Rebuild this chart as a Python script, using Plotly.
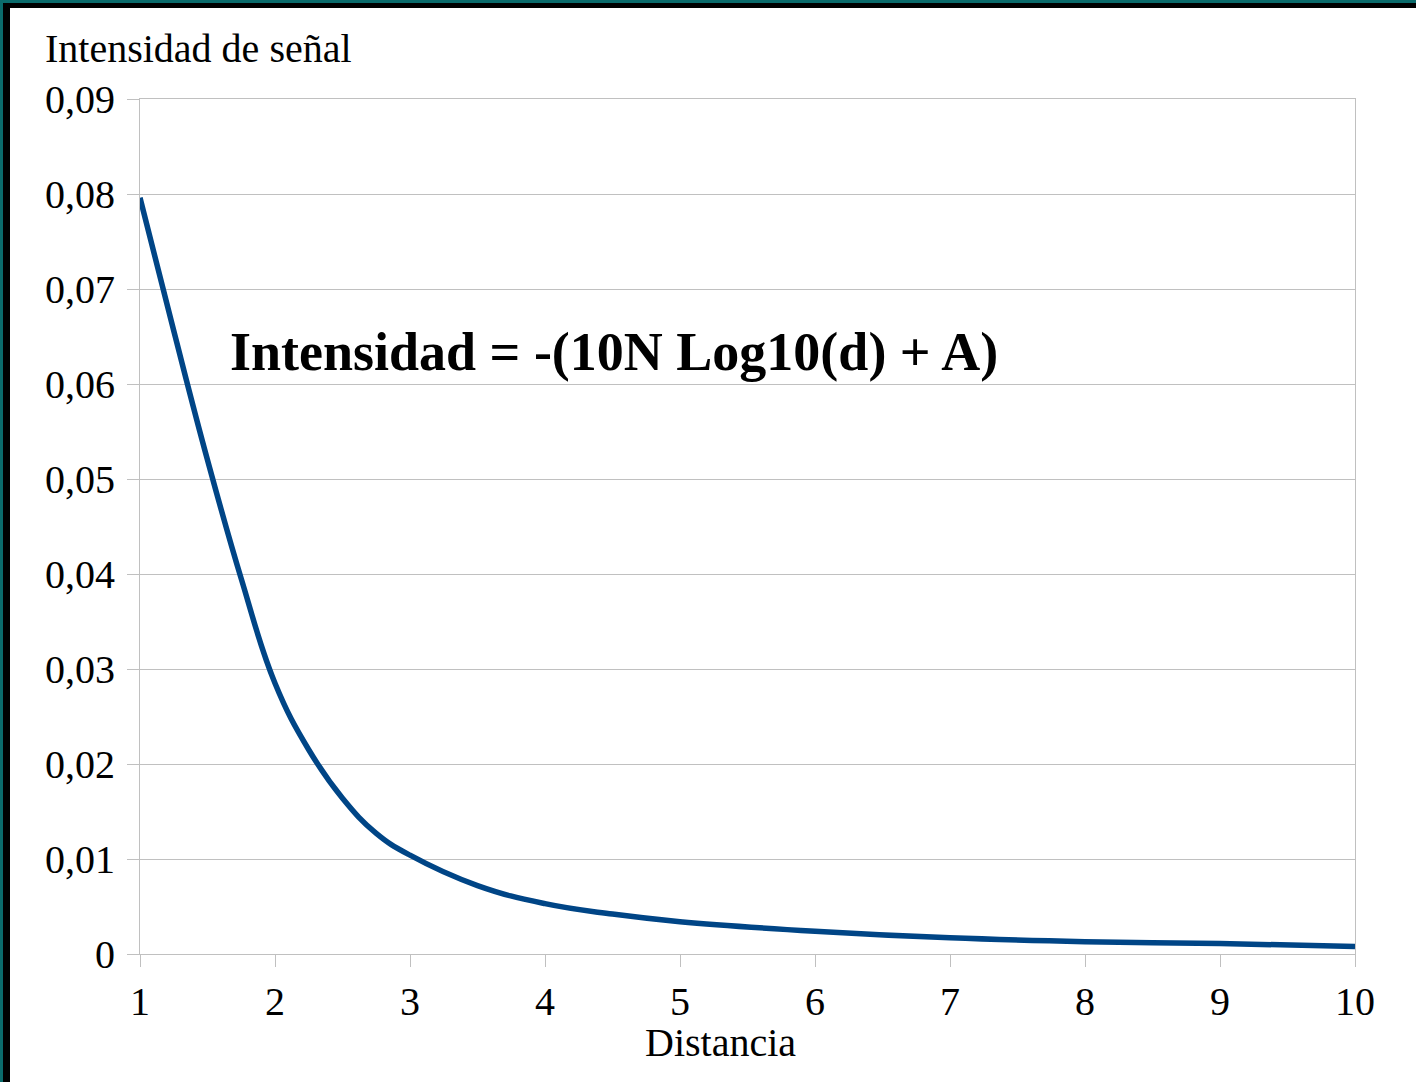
import plotly.graph_objects as go

# Data
distancia = [1, 1.25, 1.5, 1.75, 2, 2.25, 2.5, 2.75, 3, 3.5, 4, 4.5, 5, 6, 7, 8, 9, 10]
intensidad = [0.0796, 0.0656, 0.0520, 0.0395, 0.0285, 0.0215, 0.0164, 0.0127, 0.0104,
              0.0072, 0.0053, 0.0042, 0.0034, 0.0024, 0.0017, 0.0013, 0.0011, 0.0008]

y_tickvals = [0, 0.01, 0.02, 0.03, 0.04, 0.05, 0.06, 0.07, 0.08, 0.09]
y_ticktext = ["0", "0,01", "0,02", "0,03", "0,04", "0,05", "0,06", "0,07", "0,08", "0,09"]
x_tickvals = [1, 2, 3, 4, 5, 6, 7, 8, 9, 10]

W, H = 1416, 1082
L, R, T, B = 140, 61, 99, 128
pw, ph = W - L - R, H - T - B

def px(x):
    return (x - L) / pw

def py(y):
    return (H - B - y) / ph

FONT = "Liberation Serif, Times New Roman, serif"
GRID = "#c0c0c0"

fig = go.Figure()
fig.add_trace(go.Scatter(
    x=distancia, y=intensidad, mode="lines",
    line=dict(color="#004586", width=5.5, shape="spline", smoothing=1.2),
    showlegend=False, hoverinfo="skip",
))

fig.update_layout(
    width=W, height=H,
    margin=dict(l=L, r=R, t=T, b=B),
    paper_bgcolor="white", plot_bgcolor="white",
    font=dict(family=FONT, size=40, color="black"),
    xaxis=dict(
        range=[1, 10], tickvals=x_tickvals, ticks="outside", ticklen=12,
        tickcolor=GRID, showgrid=False, showline=True, linecolor=GRID,
        linewidth=1, mirror=True, zeroline=False,
        tickfont=dict(family=FONT, size=40, color="black"),
    ),
    yaxis=dict(
        range=[0, 0.09], tickvals=y_tickvals, ticktext=y_ticktext,
        ticks="outside", ticklen=12, tickcolor=GRID, showgrid=True,
        gridcolor=GRID, gridwidth=1, showline=True, linecolor=GRID,
        linewidth=1, mirror=True, zeroline=False, ticklabelstandoff=4,
        tickfont=dict(family=FONT, size=40, color="black"),
    ),
)

fig.add_annotation(
    x=4.51, y=0.0634, xref="x", yref="y",
    text="<b>Intensidad = -(10N Log10(d) + A)</b>", showarrow=False,
    font=dict(family=FONT, size=54, color="black"),
)
fig.add_annotation(
    x=px(43), y=py(48), xref="paper", yref="paper", xanchor="left", yanchor="middle",
    text="Intensidad de señal", showarrow=False,
    font=dict(family=FONT, size=40, color="black"),
)
fig.add_annotation(
    x=px(720), y=py(1042), xref="paper", yref="paper", xanchor="center", yanchor="middle",
    text="Distancia", showarrow=False,
    font=dict(family=FONT, size=40, color="black"),
)

# Frame (teal background edge + black border) on left and top
TEAL = "#0b6b6b"
frame = [
    (0, 0, 3, H, TEAL),
    (0, 0, W, 3, TEAL),
    (3, 3, 10, H, "black"),
    (3, 3, W, 8, "black"),
]
for x0, y0, x1, y1, c in frame:
    fig.add_shape(type="rect", xref="paper", yref="paper",
                  x0=px(x0), x1=px(x1), y0=py(y1), y1=py(y0),
                  fillcolor=c, line=dict(width=0), layer="above")

fig.write_html(
    "out.html",
    config={"displayModeBar": False},
    post_script="document.body.style.margin='0';document.body.style.padding='0';"
                "document.body.style.overflow='hidden';",
)
